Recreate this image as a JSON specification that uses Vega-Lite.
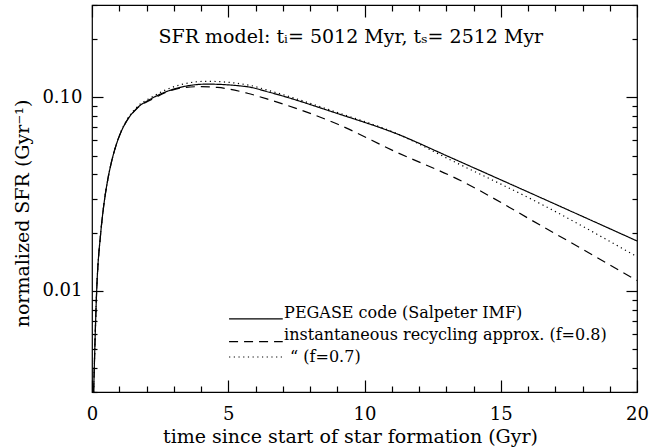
{
  "$schema": "https://vega.github.io/schema/vega-lite/v6.json",
  "width": 545,
  "height": 387,
  "autosize": "none",
  "padding": {"left": 92, "top": 5, "right": 12, "bottom": 56},
  "background": "white",
  "config": {
    "view": {"stroke": "black", "strokeWidth": 1.2},
    "font": "DejaVu Serif",
    "axis": {"labelFont": "DejaVu Serif", "titleFont": "DejaVu Serif", "labelFontSize": 18, "titleFontSize": 19, "titleFontWeight": "normal", "labelColor": "black", "titleColor": "black", "domain": false, "grid": false, "tickColor": "black", "tickWidth": 1.2}
  },
  "datasets": {
    "curves": [
      {"t": 0.06, "sfr": 0.003, "model": "pegase"},
      {"t": 0.17, "sfr": 0.0099, "model": "pegase"},
      {"t": 0.32, "sfr": 0.0199, "model": "pegase"},
      {"t": 0.42, "sfr": 0.0268, "model": "pegase"},
      {"t": 0.56, "sfr": 0.0363, "model": "pegase"},
      {"t": 0.72, "sfr": 0.0467, "model": "pegase"},
      {"t": 0.88, "sfr": 0.0563, "model": "pegase"},
      {"t": 1.05, "sfr": 0.0655, "model": "pegase"},
      {"t": 1.27, "sfr": 0.0754, "model": "pegase"},
      {"t": 1.64, "sfr": 0.0876, "model": "pegase"},
      {"t": 2.19, "sfr": 0.0986, "model": "pegase"},
      {"t": 3.23, "sfr": 0.1125, "model": "pegase"},
      {"t": 4.21, "sfr": 0.117, "model": "pegase"},
      {"t": 5.68, "sfr": 0.1135, "model": "pegase"},
      {"t": 6.53, "sfr": 0.106, "model": "pegase"},
      {"t": 8.98, "sfr": 0.0827, "model": "pegase"},
      {"t": 11.18, "sfr": 0.0648, "model": "pegase"},
      {"t": 13.14, "sfr": 0.049, "model": "pegase"},
      {"t": 16.56, "sfr": 0.0299, "model": "pegase"},
      {"t": 20, "sfr": 0.0181, "model": "pegase"},
      {"t": 0.06, "sfr": 0.003, "model": "f08"},
      {"t": 0.17, "sfr": 0.0099, "model": "f08"},
      {"t": 0.32, "sfr": 0.0199, "model": "f08"},
      {"t": 0.42, "sfr": 0.0268, "model": "f08"},
      {"t": 0.56, "sfr": 0.0363, "model": "f08"},
      {"t": 0.72, "sfr": 0.0467, "model": "f08"},
      {"t": 0.88, "sfr": 0.0563, "model": "f08"},
      {"t": 1.05, "sfr": 0.0655, "model": "f08"},
      {"t": 1.27, "sfr": 0.0752, "model": "f08"},
      {"t": 1.64, "sfr": 0.0872, "model": "f08"},
      {"t": 2.19, "sfr": 0.0975, "model": "f08"},
      {"t": 3.23, "sfr": 0.1115, "model": "f08"},
      {"t": 3.9, "sfr": 0.1135, "model": "f08"},
      {"t": 4.6, "sfr": 0.1125, "model": "f08"},
      {"t": 5.7, "sfr": 0.105, "model": "f08"},
      {"t": 6.53, "sfr": 0.097, "model": "f08"},
      {"t": 8.98, "sfr": 0.073, "model": "f08"},
      {"t": 11.18, "sfr": 0.052, "model": "f08"},
      {"t": 13.38, "sfr": 0.038, "model": "f08"},
      {"t": 16.56, "sfr": 0.0214, "model": "f08"},
      {"t": 20, "sfr": 0.0113, "model": "f08"},
      {"t": 0.06, "sfr": 0.003, "model": "f07"},
      {"t": 0.17, "sfr": 0.0099, "model": "f07"},
      {"t": 0.32, "sfr": 0.0199, "model": "f07"},
      {"t": 0.42, "sfr": 0.0268, "model": "f07"},
      {"t": 0.56, "sfr": 0.0363, "model": "f07"},
      {"t": 0.72, "sfr": 0.0467, "model": "f07"},
      {"t": 0.88, "sfr": 0.0565, "model": "f07"},
      {"t": 1.05, "sfr": 0.0659, "model": "f07"},
      {"t": 1.27, "sfr": 0.0762, "model": "f07"},
      {"t": 1.64, "sfr": 0.0888, "model": "f07"},
      {"t": 2.19, "sfr": 0.1002, "model": "f07"},
      {"t": 3.23, "sfr": 0.116, "model": "f07"},
      {"t": 4.2, "sfr": 0.121, "model": "f07"},
      {"t": 5.7, "sfr": 0.116, "model": "f07"},
      {"t": 6.53, "sfr": 0.108, "model": "f07"},
      {"t": 8.98, "sfr": 0.0837, "model": "f07"},
      {"t": 11.18, "sfr": 0.065, "model": "f07"},
      {"t": 13.14, "sfr": 0.0476, "model": "f07"},
      {"t": 16.56, "sfr": 0.0277, "model": "f07"},
      {"t": 20, "sfr": 0.015, "model": "f07"}
    ],
    "legendLines": [
      {"t1": 5.03, "t2": 7.0, "sfr": 0.00716, "model": "pegase"},
      {"t1": 5.03, "t2": 7.0, "sfr": 0.00546, "model": "f08"},
      {"t1": 5.03, "t2": 7.0, "sfr": 0.00455, "model": "f07"}
    ],
    "legendText": [
      {"t": 7.05, "sfr": 0.00723, "label": "PEGASE code (Salpeter IMF)"},
      {"t": 7.05, "sfr": 0.00557, "label": "instantaneous recycling approx. (f=0.8)"},
      {"t": 7.27, "sfr": 0.00429, "label": "“ (f=0.7)"}
    ],
    "titleText": [
      {"t": 9.5, "sfr": 0.205, "label": "SFR model: tᵢ= 5012 Myr, tₛ= 2512 Myr"}
    ]
  },
  "layer": [
    {
      "data": {"name": "curves"},
      "mark": {"type": "line", "color": "black", "strokeWidth": 1.2, "interpolate": "monotone", "clip": true},
      "encoding": {
        "x": {"field": "t", "type": "quantitative", "scale": {"domain": [0, 20], "nice": false, "zero": false},
          "axis": {"orient": "bottom", "title": "time since start of star formation (Gyr)", "values": [0,1,2,3,4,5,6,7,8,9,10,11,12,13,14,15,16,17,18,19,20],
            "labelExpr": "datum.value % 5 == 0 ? datum.label : ''", "tickSize": {"condition": {"test": "datum.value % 5 == 0", "value": -12}, "value": -6}, "labelPadding": 25, "titlePadding": 4, "titleX": 258, "labelFlush": false}},
        "y": {"field": "sfr", "type": "quantitative", "scale": {"type": "log", "domain": [0.003, 0.3], "nice": false},
          "axis": {"orient": "left", "title": "normalized SFR (Gyr⁻¹)", "values": [0.003,0.004,0.005,0.006,0.007,0.008,0.009,0.01,0.02,0.03,0.04,0.05,0.06,0.07,0.08,0.09,0.1,0.2,0.3],
            "labelExpr": "datum.value == 0.01 ? '0.01' : (datum.value == 0.1 ? '0.10' : '')", "tickSize": {"condition": {"test": "datum.value == 0.01 || datum.value == 0.1", "value": -11}, "value": -5}, "labelPadding": 21, "titlePadding": 9, "titleY": 208, "labelFlush": false}},
        "strokeDash": {"field": "model", "type": "nominal", "scale": {"domain": ["pegase", "f08", "f07"], "range": [[1, 0], [9, 6], [1.2, 3.5]]}, "legend": null},
        "detail": {"field": "model"}
      }
    },
    {
      "data": {"name": "legendLines"},
      "mark": {"type": "rule", "color": "black", "strokeWidth": 1.2},
      "encoding": {
        "x": {"field": "t1", "type": "quantitative", "scale": {"domain": [0, 20], "nice": false, "zero": false},
          "axis": {"orient": "top", "title": null, "values": [0,1,2,3,4,5,6,7,8,9,10,11,12,13,14,15,16,17,18,19,20], "labels": false,
            "tickSize": {"condition": {"test": "datum.value % 5 == 0", "value": -12}, "value": -6}}},
        "x2": {"field": "t2"},
        "y": {"field": "sfr", "type": "quantitative", "scale": {"type": "log", "domain": [0.003, 0.3], "nice": false},
          "axis": {"orient": "right", "title": null, "values": [0.003,0.004,0.005,0.006,0.007,0.008,0.009,0.01,0.02,0.03,0.04,0.05,0.06,0.07,0.08,0.09,0.1,0.2,0.3], "labels": false,
            "tickSize": {"condition": {"test": "datum.value == 0.01 || datum.value == 0.1", "value": -11}, "value": -5}}},
        "strokeDash": {"field": "model", "type": "nominal", "scale": {"domain": ["pegase", "f08", "f07"], "range": [[1, 0], [9, 6], [1.2, 3.5]]}, "legend": null}
      }
    },
    {
      "data": {"name": "legendText"},
      "mark": {"type": "text", "align": "left", "baseline": "alphabetic", "font": "DejaVu Serif", "fontSize": 16, "color": "black"},
      "encoding": {
        "x": {"field": "t", "type": "quantitative", "axis": null},
        "y": {"field": "sfr", "type": "quantitative", "axis": null},
        "text": {"field": "label"}
      }
    },
    {
      "data": {"name": "titleText"},
      "mark": {"type": "text", "align": "center", "baseline": "middle", "font": "DejaVu Serif", "fontSize": 19, "color": "black"},
      "encoding": {
        "x": {"field": "t", "type": "quantitative", "axis": null},
        "y": {"field": "sfr", "type": "quantitative", "axis": null},
        "text": {"field": "label"}
      }
    }
  ],
  "resolve": {"axis": {"x": "independent", "y": "independent"}}
}
